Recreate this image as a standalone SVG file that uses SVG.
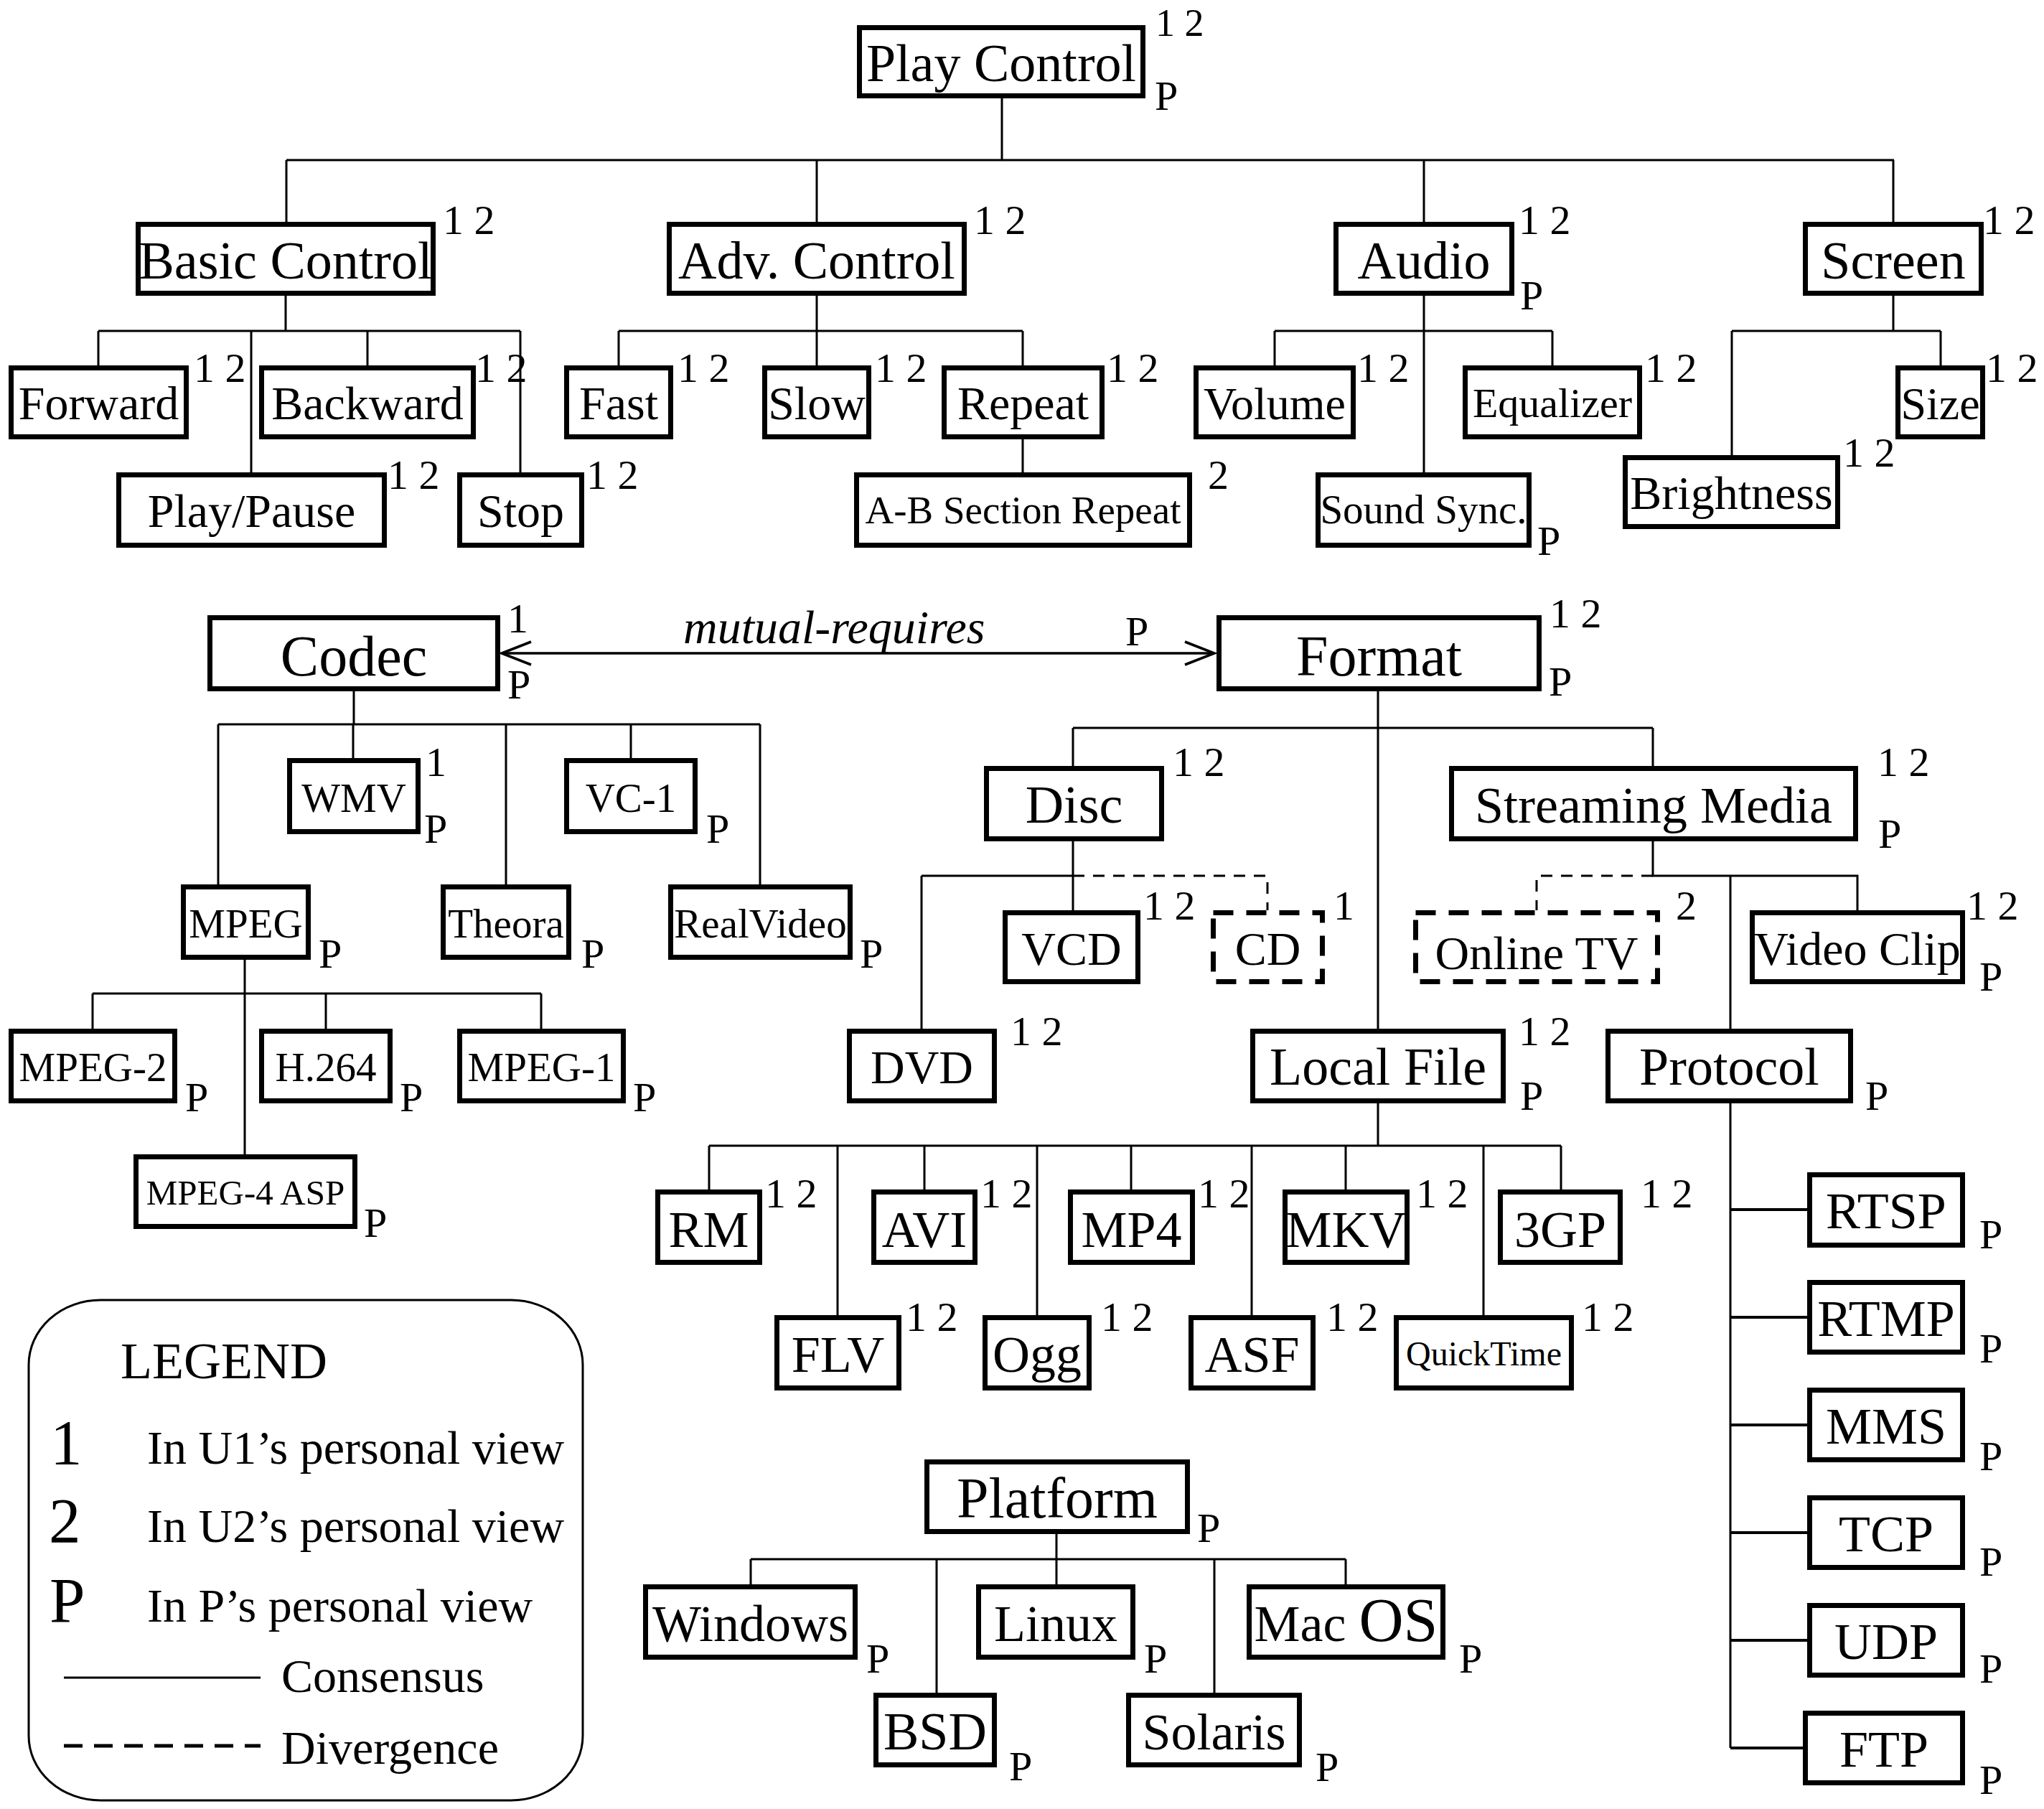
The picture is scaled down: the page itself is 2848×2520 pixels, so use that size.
<svg xmlns="http://www.w3.org/2000/svg" width="2848" height="2520" viewBox="0 0 2848 2520">
<style>
text{font-family:"Liberation Serif","Times New Roman",serif;fill:#000}
.b{fill:#fff;stroke:#000;stroke-width:7}
.d{fill:#fff;stroke:#000;stroke-width:7;stroke-dasharray:28 18}
.l{stroke:#000;stroke-width:3;fill:none}
.lt{stroke:#000;stroke-width:4;fill:none}
.dl{stroke:#000;stroke-width:3;stroke-dasharray:16 12;fill:none}
.m{text-anchor:middle}
.f80{font-size:80px}.f74{font-size:74px}.f72{font-size:72px}.f66{font-size:66px}.f64{font-size:64px}
.f58{font-size:58px}.f57{font-size:57px}.f55{font-size:55px}.f49{font-size:49px}.f48{font-size:48px}
.s{font-size:58px}
.it{font-size:66px;font-style:italic}
</style>
<rect width="2848" height="2520" fill="#fff"/>
<g id="connectors">
<path class="l" d="M1396 137V223M399 223H2639M399 223V309M1138 223V309M1984 223V309M2638 223V309"/>
<path class="l" d="M398 412V461M137 461H725M137 461V509M350 461V658M512 461V509M725 461V658"/>
<path class="l" d="M1138 412V461M862 461H1425M862 461V509M1138 461V509M1425 461V509M1425 612V658"/>
<path class="l" d="M1984 412V658M1776 461H2163M1776 461V509M2163 461V509"/>
<path class="l" d="M2638 412V461M2413 461H2704M2413 461V634M2704 461V509"/>
<path class="l" d="M699 910H1692" style="stroke-width:3.5"/>
<path class="l" d="M740 894L699 910L740 926M1651 894L1692 910L1651 926" style="stroke-width:3.5"/>
<path class="l" d="M493 963V1009M304 1009H1059M304 1009V1232M492 1009V1056M705 1009V1232M879 1009V1056M1059 1009V1232"/>
<path class="l" d="M341 1337V1608M129 1384H754M129 1384V1433M454 1384V1433M754 1384V1433"/>
<path class="l" d="M1920 963V1433M1495 1014H2303M1495 1014V1067M2303 1014V1067"/>
<path class="l" d="M1495 1172V1268M1284 1220H1495M1284 1220V1433"/>
<path class="dl" d="M1495 1220H1766V1268"/>
<path class="l" d="M2303 1172V1220H2588V1268M2411 1220V1433"/>
<path class="dl" d="M2303 1220H2141V1268"/>
<path class="l" d="M1920 1537V1596M988 1596H2175M988 1596V1657M1167 1596V1832M1288 1596V1657M1445 1596V1832M1576 1596V1657M1744 1596V1832M1875 1596V1657M2067 1596V1832M2175 1596V1657"/>
<path class="l" d="M2411 1537V2435"/>
<path class="lt" d="M2411 1685H2518M2411 1835H2518M2411 1985H2518M2411 2135H2518M2411 2285H2518M2411 2435H2512"/>
<path class="l" d="M1472 2137V2172M1046 2172H1875M1046 2172V2207M1305 2172V2358M1472 2172V2207M1692 2172V2358M1875 2172V2207"/>
<text class="it" x="952" y="896">mutual-requires</text>
<text class="s" x="1568" y="899">P</text>
</g>
<g id="play-control"><rect class="b" x="1197.5" y="38.5" width="395" height="95"/><text class="m f74" x="1395" y="113">Play Control</text><text x="1610" y="50" style="font-size:54px">1 2</text><text class="s" x="1609" y="153">P</text></g>
<g id="basic-control"><rect class="b" x="192.5" y="312.5" width="411" height="96"/><text class="m f74" x="398" y="388">Basic Control</text><text class="s" x="617" y="326">1 2</text></g>
<g id="adv-control"><rect class="b" x="932.5" y="312.5" width="411" height="96"/><text class="m f74" x="1138" y="388">Adv. Control</text><text class="s" x="1357" y="326">1 2</text></g>
<g id="audio"><rect class="b" x="1861.5" y="312.5" width="245" height="96"/><text class="m f74" x="1984" y="388">Audio</text><text class="s" x="2116" y="326">1 2</text><text class="s" x="2118" y="431">P</text></g>
<g id="screen"><rect class="b" x="2515.5" y="312.5" width="245" height="96"/><text class="m f74" x="2638" y="388">Screen</text><text class="s" x="2763" y="326">1 2</text></g>
<g id="forward"><rect class="b" x="15.5" y="512.5" width="244" height="96"/><text class="m f66" x="137.5" y="584">Forward</text><text class="s" x="270" y="532">1 2</text></g>
<g id="backward"><rect class="b" x="364.5" y="512.5" width="295" height="96"/><text class="m f66" x="512" y="584">Backward</text><text class="s" x="662" y="532">1 2</text></g>
<g id="play-pause"><rect class="b" x="165.5" y="661.5" width="370" height="98"/><text class="m f66" x="350.5" y="734">Play/Pause</text><text class="s" x="540" y="681">1 2</text></g>
<g id="stop"><rect class="b" x="640.5" y="661.5" width="170" height="98"/><text class="m f66" x="725.5" y="734">Stop</text><text class="s" x="817" y="681">1 2</text></g>
<g id="fast"><rect class="b" x="789.5" y="512.5" width="145" height="96"/><text class="m f66" x="862" y="584">Fast</text><text class="s" x="944" y="532">1 2</text></g>
<g id="slow"><rect class="b" x="1065.5" y="512.5" width="145" height="96"/><text class="m f66" x="1138" y="584">Slow</text><text class="s" x="1219" y="532">1 2</text></g>
<g id="repeat"><rect class="b" x="1315.5" y="512.5" width="220" height="96"/><text class="m f66" x="1425.5" y="584">Repeat</text><text class="s" x="1542" y="532">1 2</text></g>
<g id="ab-section-repeat"><rect class="b" x="1193.5" y="661.5" width="464" height="98"/><text class="m f55" x="1425.5" y="729">A-B Section Repeat</text><text class="s" x="1683" y="681">2</text></g>
<g id="volume"><rect class="b" x="1666.5" y="512.5" width="219" height="96"/><text class="m f64" x="1776" y="584">Volume</text><text class="s" x="1891" y="532">1 2</text></g>
<g id="equalizer"><rect class="b" x="2041.5" y="512.5" width="243" height="96"/><text class="m f58" x="2163" y="581">Equalizer</text><text class="s" x="2292" y="532">1 2</text></g>
<g id="sound-sync"><rect class="b" x="1836.5" y="661.5" width="294" height="98"/><text class="m f57" x="1983.5" y="729">Sound Sync.</text><text class="s" x="2142" y="773">P</text></g>
<g id="size"><rect class="b" x="2644.5" y="512.5" width="118" height="96"/><text class="m f64" x="2703.5" y="584">Size</text><text class="s" x="2767" y="532">1 2</text></g>
<g id="brightness"><rect class="b" x="2264.5" y="637.5" width="296" height="96"/><text class="m f66" x="2412.5" y="709">Brightness</text><text class="s" x="2568" y="650">1 2</text></g>
<g id="codec"><rect class="b" x="292.5" y="860.5" width="401" height="99"/><text class="m f80" x="493" y="941">Codec</text><text class="s" x="707" y="881">1</text><text class="s" x="707" y="973">P</text></g>
<g id="format"><rect class="b" x="1698.5" y="860.5" width="446" height="99"/><text class="m f80" x="1921.5" y="941">Format</text><text class="s" x="2159" y="874">1 2</text><text class="s" x="2158" y="969">P</text></g>
<g id="wmv"><rect class="b" x="403.5" y="1059.5" width="179" height="99"/><text class="m f57" x="493" y="1131">WMV</text><text class="s" x="593" y="1081">1</text><text class="s" x="591" y="1174">P</text></g>
<g id="vc-1"><rect class="b" x="789.5" y="1059.5" width="179" height="99"/><text class="m f57" x="879" y="1131">VC-1</text><text class="s" x="984" y="1174">P</text></g>
<g id="mpeg"><rect class="b" x="255.5" y="1235.5" width="174" height="98"/><text class="m f57" x="342.5" y="1306">MPEG</text><text class="s" x="444" y="1348">P</text></g>
<g id="theora"><rect class="b" x="617.5" y="1235.5" width="175" height="98"/><text class="m f57" x="705" y="1306">Theora</text><text class="s" x="810" y="1348">P</text></g>
<g id="realvideo"><rect class="b" x="934.5" y="1235.5" width="250" height="98"/><text class="m f57" x="1059.5" y="1306">RealVideo</text><text class="s" x="1198" y="1348">P</text></g>
<g id="mpeg-2"><rect class="b" x="15.5" y="1436.5" width="228" height="97"/><text class="m f57" x="129.5" y="1506">MPEG-2</text><text class="s" x="258" y="1548">P</text></g>
<g id="h264"><rect class="b" x="364.5" y="1436.5" width="179" height="97"/><text class="m f57" x="454" y="1506">H.264</text><text class="s" x="557" y="1548">P</text></g>
<g id="mpeg-1"><rect class="b" x="640.5" y="1436.5" width="228" height="97"/><text class="m f57" x="754.5" y="1506">MPEG-1</text><text class="s" x="882" y="1548">P</text></g>
<g id="mpeg-4-asp"><rect class="b" x="189.5" y="1611.5" width="305" height="97"/><text class="m f49" x="342" y="1678">MPEG-4 ASP</text><text class="s" x="507" y="1723">P</text></g>
<g id="disc"><rect class="b" x="1374.5" y="1070.5" width="244" height="98"/><text class="m f74" x="1496.5" y="1146">Disc</text><text class="s" x="1634" y="1081">1 2</text></g>
<g id="streaming-media"><rect class="b" x="2022.5" y="1070.5" width="563" height="98"/><text class="m f72" x="2304" y="1146">Streaming Media</text><text class="s" x="2616" y="1081">1 2</text><text class="s" x="2617" y="1181">P</text></g>
<g id="vcd"><rect class="b" x="1400.5" y="1271.5" width="185" height="96"/><text class="m f66" x="1493" y="1344">VCD</text><text class="s" x="1593" y="1281">1 2</text></g>
<g id="cd"><rect class="d" x="1690.5" y="1271.5" width="152" height="96"/><text class="m f66" x="1766.5" y="1344">CD</text><text class="s" x="1858" y="1281">1</text></g>
<g id="dvd"><rect class="b" x="1183.5" y="1436.5" width="202" height="97"/><text class="m f66" x="1284.5" y="1509">DVD</text><text class="s" x="1408" y="1456">1 2</text></g>
<g id="online-tv"><rect class="d" x="1972.5" y="1271.5" width="337" height="96"/><text class="m f66" x="2141" y="1350">Online TV</text><text class="s" x="2335" y="1281">2</text></g>
<g id="video-clip"><rect class="b" x="2441.5" y="1271.5" width="293" height="96"/><text class="m f66" x="2588" y="1344">Video Clip</text><text class="s" x="2740" y="1281">1 2</text><text class="s" x="2758" y="1380">P</text></g>
<g id="local-file"><rect class="b" x="1745.5" y="1436.5" width="349" height="97"/><text class="m f74" x="1920" y="1511">Local File</text><text class="s" x="2116" y="1456">1 2</text><text class="s" x="2118" y="1546">P</text></g>
<g id="protocol"><rect class="b" x="2240.5" y="1436.5" width="338" height="97"/><text class="m f74" x="2409.5" y="1511">Protocol</text><text class="s" x="2599" y="1546">P</text></g>
<g id="rm"><rect class="b" x="916.5" y="1660.5" width="142" height="98"/><text class="m f72" x="987.5" y="1737">RM</text><text class="s" x="1066" y="1682">1 2</text></g>
<g id="avi"><rect class="b" x="1217.5" y="1660.5" width="141" height="98"/><text class="m f72" x="1288" y="1737">AVI</text><text class="s" x="1366" y="1682">1 2</text></g>
<g id="mp4"><rect class="b" x="1491.5" y="1660.5" width="170" height="98"/><text class="m f72" x="1576.5" y="1737">MP4</text><text class="s" x="1669" y="1682">1 2</text></g>
<g id="mkv"><rect class="b" x="1790.5" y="1660.5" width="170" height="98"/><text class="m f72" x="1875.5" y="1737">MKV</text><text class="s" x="1973" y="1682">1 2</text></g>
<g id="3gp"><rect class="b" x="2090.5" y="1660.5" width="167" height="98"/><text class="m f72" x="2174" y="1737">3GP</text><text class="s" x="2286" y="1682">1 2</text></g>
<g id="flv"><rect class="b" x="1082.5" y="1835.5" width="170" height="98"/><text class="m f72" x="1167.5" y="1911">FLV</text><text class="s" x="1262" y="1854">1 2</text></g>
<g id="ogg"><rect class="b" x="1372.5" y="1835.5" width="145" height="98"/><text class="m f72" x="1445" y="1911">Ogg</text><text class="s" x="1534" y="1854">1 2</text></g>
<g id="asf"><rect class="b" x="1659.5" y="1835.5" width="170" height="98"/><text class="m f72" x="1744.5" y="1911">ASF</text><text class="s" x="1848" y="1854">1 2</text></g>
<g id="quicktime"><rect class="b" x="1945.5" y="1835.5" width="244" height="98"/><text class="m f48" x="2067.5" y="1902">QuickTime</text><text class="s" x="2204" y="1854">1 2</text></g>
<g id="rtsp"><rect class="b" x="2521.5" y="1636.5" width="213" height="98"/><text class="m f72" x="2628" y="1711">RTSP</text><text class="s" x="2758" y="1739">P</text></g>
<g id="rtmp"><rect class="b" x="2521.5" y="1786.5" width="213" height="97"/><text class="m f72" x="2628" y="1861">RTMP</text><text class="s" x="2758" y="1898">P</text></g>
<g id="mms"><rect class="b" x="2521.5" y="1936.5" width="213" height="97"/><text class="m f72" x="2628" y="2011">MMS</text><text class="s" x="2758" y="2048">P</text></g>
<g id="tcp"><rect class="b" x="2521.5" y="2086.5" width="213" height="97"/><text class="m f72" x="2628" y="2161">TCP</text><text class="s" x="2758" y="2195">P</text></g>
<g id="udp"><rect class="b" x="2521.5" y="2236.5" width="213" height="97"/><text class="m f72" x="2628" y="2311">UDP</text><text class="s" x="2758" y="2344">P</text></g>
<g id="ftp"><rect class="b" x="2515.5" y="2386.5" width="219" height="97"/><text class="m f72" x="2625" y="2461">FTP</text><text class="s" x="2758" y="2499">P</text></g>
<g id="platform"><rect class="b" x="1291.5" y="2036.5" width="363" height="97"/><text class="m f80" x="1473" y="2114">Platform</text><text class="s" x="1668" y="2148">P</text></g>
<g id="windows"><rect class="b" x="899.5" y="2210.5" width="292" height="98"/><text class="m f72" x="1045.5" y="2286">Windows</text><text class="s" x="1207" y="2330">P</text></g>
<g id="linux"><rect class="b" x="1363.5" y="2210.5" width="215" height="98"/><text class="m f72" x="1471" y="2286">Linux</text><text class="s" x="1594" y="2330">P</text></g>
<g id="mac-os"><rect class="b" x="1740.5" y="2210.5" width="270" height="98"/><text class="m f72" x="1875.5" y="2286">Mac <tspan style="font-size:86px">OS</tspan></text><text class="s" x="2033" y="2330">P</text></g>
<g id="bsd"><rect class="b" x="1220.5" y="2361.5" width="165" height="97"/><text class="m f74" x="1303" y="2437">BSD</text><text class="s" x="1406" y="2480">P</text></g>
<g id="solaris"><rect class="b" x="1572.5" y="2361.5" width="238" height="97"/><text class="m f72" x="1691.5" y="2437">Solaris</text><text class="s" x="1833" y="2481">P</text></g>
<g id="legend">
<rect x="40" y="1811" width="772" height="697" rx="100" ry="90" fill="none" stroke="#000" stroke-width="3"/>
<text class="f72" x="168" y="1920">LEGEND</text>
<text style="font-size:89px" x="70" y="2039">1</text><text class="f66" x="205" y="2039">In U1’s personal view</text>
<text style="font-size:89px" x="68" y="2148">2</text><text class="f66" x="205" y="2148">In U2’s personal view</text>
<text style="font-size:89px" x="69" y="2259">P</text><text class="f66" x="205" y="2259">In P’s personal view</text>
<path d="M89 2337H363" stroke="#000" stroke-width="3"/><text class="f66" x="392" y="2357">Consensus</text>
<path d="M89 2432H363" stroke="#000" stroke-width="5" stroke-dasharray="26 16"/><text class="f66" x="392" y="2457">Divergence</text>
</g>
</svg>
